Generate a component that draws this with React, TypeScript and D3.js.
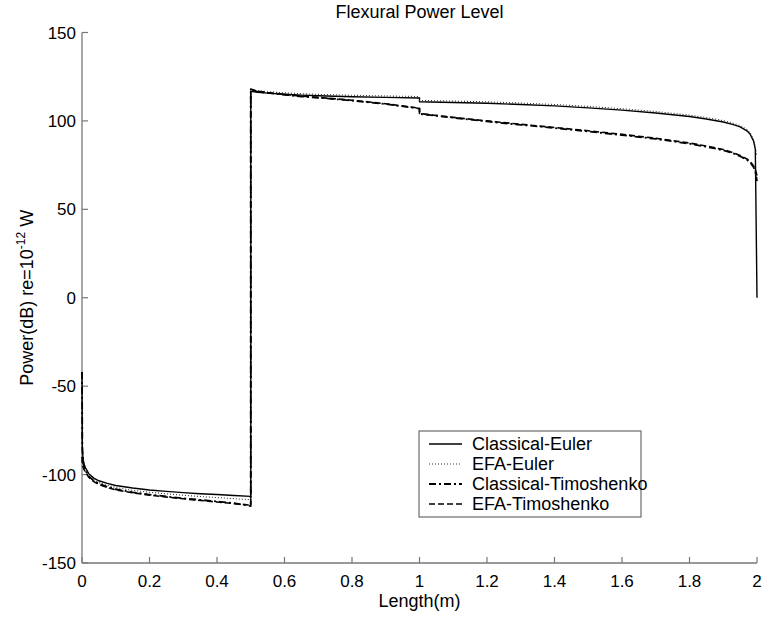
import React from "react";
import * as d3 from "d3";

// Position along the beam (m); repeated values mark the jumps at 0.5 m and 1.0 m
const lengthM = [
  0, 0.001, 0.003, 0.006, 0.01, 0.02, 0.035, 0.05, 0.075, 0.1, 0.15, 0.2, 0.25, 0.3, 0.35, 0.4, 0.45, 0.5,
  0.5, 0.52, 0.55, 0.6, 0.65, 0.7, 0.8, 0.9, 1.0,
  1.0, 1.1, 1.2, 1.3, 1.4, 1.5, 1.6, 1.7, 1.8, 1.85, 1.9, 1.93, 1.95, 1.97, 1.98, 1.99, 1.995, 2.0,
];

const classicalEuler = [
  -42, -84, -91, -94, -96, -99.5, -102, -103.5, -105, -106.2, -107.6, -108.7, -109.5, -110.2, -110.8, -111.3, -111.8, -112.3,
  116.8, 116.2, 115.7, 115.1, 114.6, 114.2, 113.7, 113.3, 113.0,
  110.8, 110.4, 110.0, 109.3, 108.5, 107.4, 106.1, 104.5, 102.5, 101.1, 99.4, 97.9, 96.6, 94.4, 92.4, 88.5, 84, 0,
];

const efaEuler = [
  -90, -93, -95, -96.5, -98, -100.5, -103, -104.5, -106, -107.3, -108.9, -110, -110.9, -111.7, -112.4, -113, -113.6, -114.2,
  117.5, 117.0, 116.5, 115.9, 115.4, 115.0, 114.5, 114.1, 113.8,
  111.6, 111.2, 110.8, 110.1, 109.3, 108.2, 106.9, 105.3, 103.3, 101.9, 100.2, 98.7, 97.4, 95.2, 93.2, 89.3, 85, 80,
];

const classicalTimoshenko = [
  -42, -86, -92, -95.5, -97.5, -101, -103.5, -105.2, -107, -108.3, -110, -111.3, -112.4, -113.4, -114.3, -115.2, -116.1, -117.8,
  117.6, 116.6, 115.8, 114.8, 113.8, 113.1, 111.5, 109.5, 107.0,
  104.0, 101.8, 99.7, 97.8, 96.0, 94.0, 92.0, 89.8, 87.1, 85.4, 83.4, 81.6, 80.0, 78.0, 76.5, 73.8, 71.5, 66,
];

const efaTimoshenko = [
  -90, -93.5, -95.5, -97, -98.5, -101.5, -104, -105.6, -107.3, -108.6, -110.3, -111.6, -112.7, -113.7, -114.6, -115.5, -116.4, -117.3,
  118.0, 116.8, 116.0, 115.0, 114.0, 113.3, 111.7, 109.7, 107.2,
  104.2, 102.0, 100.0, 98.1, 96.3, 94.4, 92.4, 90.2, 87.5, 85.8, 83.8, 82.0, 80.5, 78.5, 77.0, 74.5, 72.5, 69,
];

const seriesNames = ["Classical-Euler", "EFA-Euler", "Classical-Timoshenko", "EFA-Timoshenko"];
const seriesValues = [classicalEuler, efaEuler, classicalTimoshenko, efaTimoshenko];

const xTicks = [0, 0.2, 0.4, 0.6, 0.8, 1, 1.2, 1.4, 1.6, 1.8, 2];
const yTicks = [-150, -100, -50, 0, 50, 100, 150];

const styles = [
  { dash: "none", width: 1.4, color: "#000" },
  { dash: "1,2", width: 1.1, color: "#333" },
  { dash: "7,3,2,3", width: 1.8, color: "#000" },
  { dash: "6,3", width: 1.6, color: "#000" },
];

const W = 763;
const H = 619;
const plot = { left: 82, right: 757, top: 32.5, bottom: 563 };
const FONT = "'Liberation Sans', Arial, Helvetica, sans-serif";
const AXIS = "#777";

export default function App() {
  const x = d3.scaleLinear().domain([0, 2]).range([plot.left, plot.right]);
  const y = d3.scaleLinear().domain([-150, 150]).range([plot.bottom, plot.top]);

  const line = d3
    .line<number>()
    .x((_, i) => x(lengthM[i]))
    .y((d) => y(d))
    .curve(d3.curveLinear);

  const legend = { x: 419, y: 431, w: 222, h: 86, row: 20 };

  return (
    <svg
      width={W}
      height={H}
      style={{ position: "absolute", left: 0, top: 0, background: "#fff" }}
      fontFamily={FONT}
    >
      <rect x={0} y={0} width={W} height={H} fill="#fff" />

      {/* title */}
      <text x={(plot.left + plot.right) / 2} y={18} textAnchor="middle" fontSize={18} fill="#000">
        Flexural Power Level
      </text>

      {/* axes */}
      <line x1={plot.left} x2={plot.left} y1={plot.top} y2={plot.bottom} stroke={AXIS} strokeWidth={1.3} />
      <line x1={plot.left} x2={plot.right} y1={plot.bottom} y2={plot.bottom} stroke={AXIS} strokeWidth={1.3} />

      {xTicks.map((t) => (
        <g key={"x" + t}>
          <line x1={x(t)} x2={x(t)} y1={plot.bottom} y2={plot.bottom - 6} stroke={AXIS} strokeWidth={1.2} />
          <text x={x(t)} y={587} textAnchor="middle" fontSize={17} fill="#000">
            {String(t)}
          </text>
        </g>
      ))}
      {yTicks.map((t) => (
        <g key={"y" + t}>
          <line x1={plot.left} x2={plot.left + 6} y1={y(t)} y2={y(t)} stroke={AXIS} strokeWidth={1.2} />
          <text x={76} y={y(t) + 6} textAnchor="end" fontSize={17} fill="#000">
            {String(t)}
          </text>
        </g>
      ))}

      <text x={(plot.left + plot.right) / 2} y={607} textAnchor="middle" fontSize={18} fill="#000">
        Length(m)
      </text>

      <text transform={`translate(33, ${(plot.top + plot.bottom) / 2}) rotate(-90)`} textAnchor="middle" fontSize={18} fill="#000">
        Power(dB) re=10
        <tspan fontSize={12} dy={-8}>-12</tspan>
        <tspan dy={8}> W</tspan>
      </text>

      {/* curves */}
      {seriesValues.map((vals, i) => (
        <path
          key={seriesNames[i]}
          d={line(vals) || ""}
          fill="none"
          stroke={styles[i].color}
          strokeWidth={styles[i].width}
          strokeDasharray={styles[i].dash}
          strokeLinejoin="round"
        />
      ))}

      {/* legend */}
      <rect x={legend.x} y={legend.y} width={legend.w} height={legend.h} fill="#fff" stroke={AXIS} strokeWidth={1.3} />
      {seriesNames.map((name, i) => {
        const cy = legend.y + 13 + i * legend.row;
        return (
          <g key={"lg" + name}>
            <line
              x1={legend.x + 10}
              x2={legend.x + 43}
              y1={cy}
              y2={cy}
              stroke={styles[i].color}
              strokeWidth={styles[i].width}
              strokeDasharray={styles[i].dash}
            />
            <text x={legend.x + 53} y={cy + 6} fontSize={18} fill="#000">
              {name}
            </text>
          </g>
        );
      })}
    </svg>
  );
}
